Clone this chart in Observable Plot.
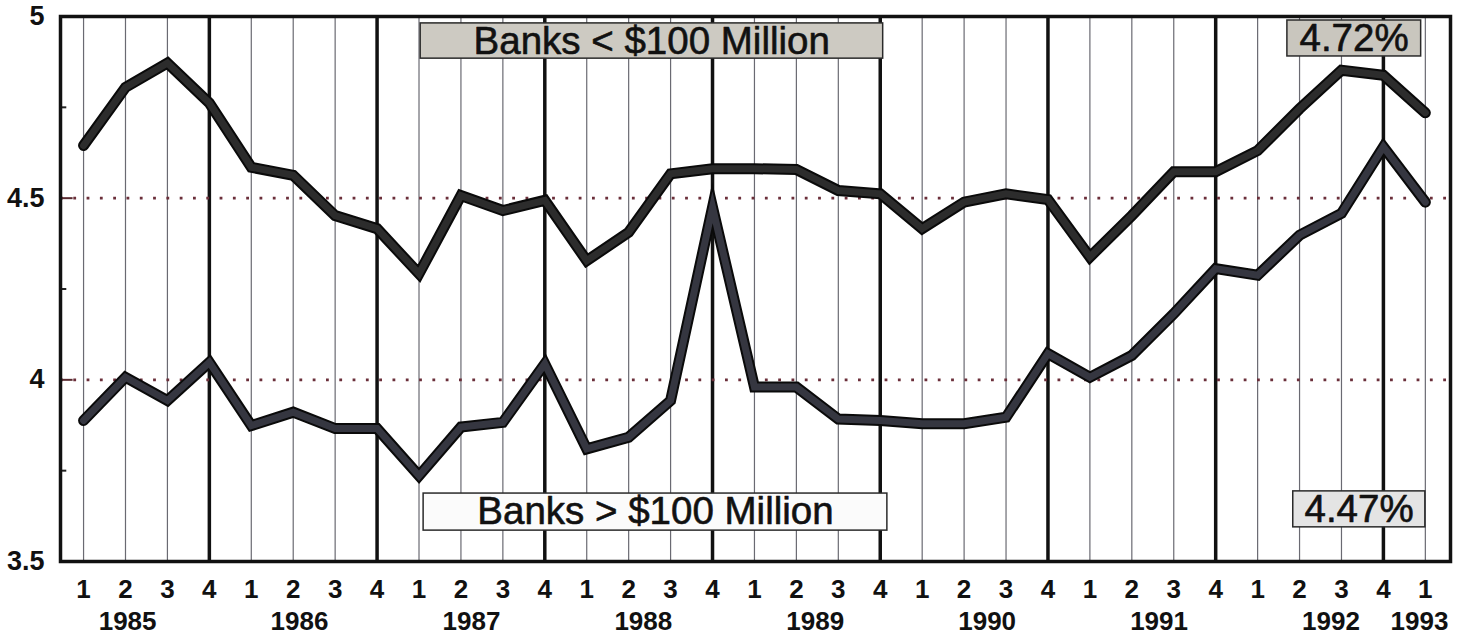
<!DOCTYPE html>
<html>
<head>
<meta charset="utf-8">
<script src="https://cdn.jsdelivr.net/npm/d3@7"></script>
<script src="https://cdn.jsdelivr.net/npm/@observablehq/plot@0.6"></script>
<style>
  html, body { margin: 0; padding: 0; background: #fff; }
  #chart svg { display: block; font-family: "Liberation Sans", Arial, Helvetica, sans-serif; }
</style>
</head>
<body>
<div id="chart"></div>
<script>
// Quarter labels, 1985 Q1 .. 1993 Q1
const quarterLabels = ["1","2","3","4","1","2","3","4","1","2","3","4","1","2","3","4",
  "1","2","3","4","1","2","3","4","1","2","3","4","1","2","3","4","1"];
const yearLabels = ["1985","1986","1987","1988","1989","1990","1991","1992","1993"];
const yTickLabels = [3.5, 4, 4.5, 5];
const yMinorTicks = [3.75, 4.25, 4.75];
const yDotted = [4, 4.5];

// Banks < $100 Million
const smallBanks = [
  4.645, 4.805, 4.872, 4.762,
  4.585, 4.563, 4.452, 4.416,
  4.292, 4.507, 4.466, 4.494,
  4.328, 4.406, 4.567, 4.581,
  4.581, 4.579, 4.521, 4.512,
  4.416, 4.489, 4.512, 4.496,
  4.338, 4.452, 4.573, 4.573,
  4.631, 4.746, 4.852, 4.838,
  4.735
];
// Banks > $100 Million
const largeBanks = [
  3.888, 4.007, 3.943, 4.048,
  3.874, 3.911, 3.866, 3.866,
  3.736, 3.870, 3.883, 4.044,
  3.810, 3.842, 3.943, 4.475,
  3.980, 3.980, 3.892, 3.888,
  3.879, 3.879, 3.897, 4.072,
  4.007, 4.067, 4.182, 4.306,
  4.288, 4.398, 4.458, 4.641,
  4.489
];
const smallLabel = "Banks < $100 Million";
const largeLabel = "Banks > $100 Million";
const smallLast = "4.72%";
const largeLast = "4.47%";

const idx = quarterLabels.map((d, i) => i);
const thinIdx = idx.filter(i => i % 4 !== 3);
const thickIdx = idx.filter(i => i % 4 === 3);
const X0 = -0.55, X1 = 32.6;

const lineOpts = (data, core) => [
  Plot.line(data, {x: (d, i) => i, y: d => d, stroke: "#0a0a0a", strokeWidth: 11,
    strokeLinejoin: "miter", strokeMiterlimit: 8}),
  Plot.line(data, {x: (d, i) => i, y: d => d, stroke: core, strokeWidth: 7,
    strokeLinejoin: "miter", strokeMiterlimit: 8})
];
const labelStyle = {fontSize: 38.5, fill: "#111", stroke: "#111", strokeWidth: 0.6, lineAnchor: "middle"};

const chart = Plot.plot({
  width: 1469,
  height: 635,
  marginLeft: 60,
  marginRight: 19,
  marginTop: 16,
  marginBottom: 74,
  x: {domain: [X0, X1], axis: null},
  y: {domain: [3.5, 5], axis: null},
  marks: [
    Plot.ruleX(thinIdx, {x: d => d, stroke: "#6a6a72", strokeWidth: 1.2}),
    Plot.ruleX(thickIdx, {x: d => d, stroke: "#111", strokeWidth: 3.5}),
    Plot.ruleY(yDotted, {y: d => d, stroke: "#6b2f3a", strokeWidth: 2.8, strokeDasharray: "2.8,10.5"}),
    Plot.ruleY(yDotted, {y: d => d, x1: X0, x2: X0 + 0.3, stroke: "#5a2a30", strokeWidth: 2}),
    Plot.ruleY(yMinorTicks, {y: d => d, x1: X0, x2: X0 + 0.15, stroke: "#222", strokeWidth: 2}),
    ...lineOpts(smallBanks, "#2c2c2c"),
    ...lineOpts(largeBanks, "#353640"),
    // annotation boxes
    Plot.rect([smallLabel], {x1: 8.04, x2: 19.07, y1: 4.884, y2: 4.981, fill: "#cdcac2", stroke: "#2a2a2a", strokeWidth: 1.5}),
    Plot.text([smallLabel], {x: 13.55, y: 4.932, text: d => d, ...labelStyle}),
    Plot.rect([smallLast], {x1: 28.71, x2: 31.9, y1: 4.89, y2: 4.989, fill: "#c9c6be", stroke: "#2a2a2a", strokeWidth: 1.5}),
    Plot.text([smallLast], {x: 30.3, y: 4.94, text: d => d, ...labelStyle}),
    Plot.rect([largeLabel], {x1: 8.11, x2: 19.17, y1: 3.585, y2: 3.687, fill: "#fbfbfb", stroke: "#2a2a2a", strokeWidth: 1.5}),
    Plot.text([largeLabel], {x: 13.64, y: 3.636, text: d => d, ...labelStyle}),
    Plot.rect([largeLast], {x1: 28.85, x2: 32.0, y1: 3.594, y2: 3.693, fill: "#e4e4e4", stroke: "#2a2a2a", strokeWidth: 1.5}),
    Plot.text([largeLast], {x: 30.42, y: 3.643, text: d => d, ...labelStyle}),
    Plot.frame({stroke: "#111", strokeWidth: 3.5}),
    // axis labels
    Plot.text(yTickLabels, {x: X0, y: d => d, text: d => String(d), dx: -16, textAnchor: "end",
      lineAnchor: "middle", fontSize: 27, fontWeight: "bold", fill: "#111"}),
    Plot.text(quarterLabels, {x: (d, i) => i, y: 3.5, text: d => d, dy: 28, lineAnchor: "middle",
      fontSize: 26, fontWeight: "bold", fill: "#111"}),
    Plot.text(yearLabels, {x: (d, i) => i < 8 ? 1.05 + 4.1 * i : 31.86, y: 3.5, text: d => d, dy: 60,
      lineAnchor: "middle", fontSize: 26, fontWeight: "bold", fill: "#111"})
  ]
});
document.getElementById("chart").appendChild(chart);
</script>
</body>
</html>
